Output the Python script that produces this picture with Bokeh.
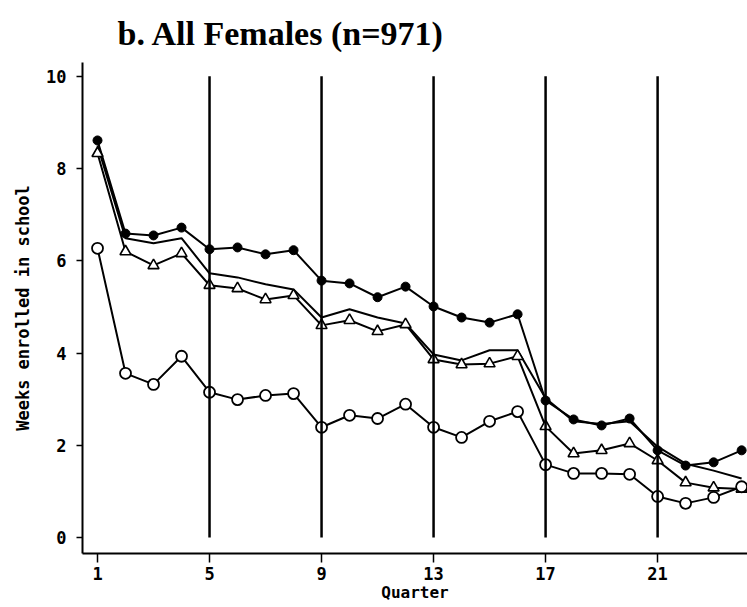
from bokeh.plotting import figure
from bokeh.embed import file_html
from bokeh.resources import INLINE

# ---- data ----
quarters = list(range(1, 25))
filled_circles = [8.61, 6.59, 6.55, 6.72, 6.25, 6.29, 6.14, 6.23, 5.57, 5.51, 5.21, 5.44,
                  5.01, 4.77, 4.66, 4.84, 2.97, 2.56, 2.43, 2.58, 1.89, 1.56, 1.63, 1.89]
plain_line = [8.50, 6.49, 6.38, 6.49, 5.73, 5.64, 5.49, 5.38, 4.77, 4.95, 4.77, 4.64,
              3.97, 3.84, 4.06, 4.06, 3.02, 2.52, 2.46, 2.52, 1.97, 1.60, 1.45, 1.28]
triangles = [8.33, 6.20, 5.90, 6.16, 5.47, 5.40, 5.16, 5.25, 4.60, 4.71, 4.47, 4.62,
             3.86, 3.75, 3.77, 3.93, 2.41, 1.82, 1.89, 2.04, 1.67, 1.19, 1.08, 1.05]
open_circles = [6.27, 3.56, 3.32, 3.93, 3.15, 2.99, 3.08, 3.12, 2.39, 2.65, 2.58, 2.89,
                2.39, 2.17, 2.52, 2.73, 1.58, 1.39, 1.39, 1.37, 0.89, 0.74, 0.87, 1.10]
divider_quarters = [5, 9, 13, 17, 21]
divider_bottom = 0
divider_top = 10
x_ticks = [1, 5, 9, 13, 17, 21]
y_ticks = [0, 2, 4, 6, 8, 10]
title_text = "b. All Females (n=971)"
x_label = "Quarter"
y_label = "Weeks enrolled in school"

mono = "DejaVu Sans Mono"

p = figure(width=747, height=607, output_backend="svg", toolbar_location=None,
           x_range=(0.464, 24.21), y_range=(-0.347, 10.30),
           min_border_left=82, min_border_right=0, min_border_top=62, min_border_bottom=54)
p.outline_line_color = None
p.xgrid.grid_line_color = None
p.ygrid.grid_line_color = None
p.background_fill_color = "white"

p.title.text = title_text
p.title.align = "left"
p.title.offset = 35
p.title.standoff = 22
p.title.text_font = "Liberation Serif"
p.title.text_font_style = "bold"
p.title.text_font_size = "34px"
p.title.text_color = "black"

for ax in (p.xaxis[0], p.yaxis[0]):
    ax.axis_line_width = 2
    ax.axis_line_color = "black"
    ax.major_tick_line_width = 1.5
    ax.major_tick_line_color = "black"
    ax.major_tick_in = 0
    ax.minor_tick_line_color = None
    ax.major_label_text_font = mono
    ax.major_label_text_font_style = "bold"
    ax.major_label_text_font_size = "17px"
    ax.major_label_text_color = "black"
    ax.axis_label_text_font = mono
    ax.axis_label_text_font_style = "bold"
    ax.axis_label_text_font_size = "17px"
    ax.axis_label_text_color = "black"

p.xaxis.axis_label_text_font_size = "16px"
p.xaxis.ticker = x_ticks
p.yaxis.ticker = y_ticks
p.xaxis.major_tick_out = 9
p.yaxis.major_tick_out = 6
p.xaxis.major_label_standoff = 4
p.yaxis.major_label_standoff = 10
p.xaxis.axis_label = x_label
p.yaxis.axis_label = y_label
p.xaxis.axis_label_standoff = 0
p.yaxis.axis_label_standoff = 10

# lines
for ys in (filled_circles, plain_line, triangles, open_circles):
    p.line(quarters, ys, line_color="black", line_width=2)

# markers
p.scatter(quarters, filled_circles, marker="circle", size=9,
          fill_color="black", line_color="black")
p.scatter(quarters, triangles, marker="triangle", size=11,
          fill_color="white", line_color="black", line_width=1.6)
p.scatter(quarters, open_circles, marker="circle", size=11,
          fill_color="white", line_color="black", line_width=1.8)

# vertical dividers
p.segment(x0=divider_quarters, y0=[divider_bottom] * len(divider_quarters),
          x1=divider_quarters, y1=[divider_top] * len(divider_quarters),
          line_color="black", line_width=2.5)

open("out.html", "w").write(file_html(p, INLINE))
